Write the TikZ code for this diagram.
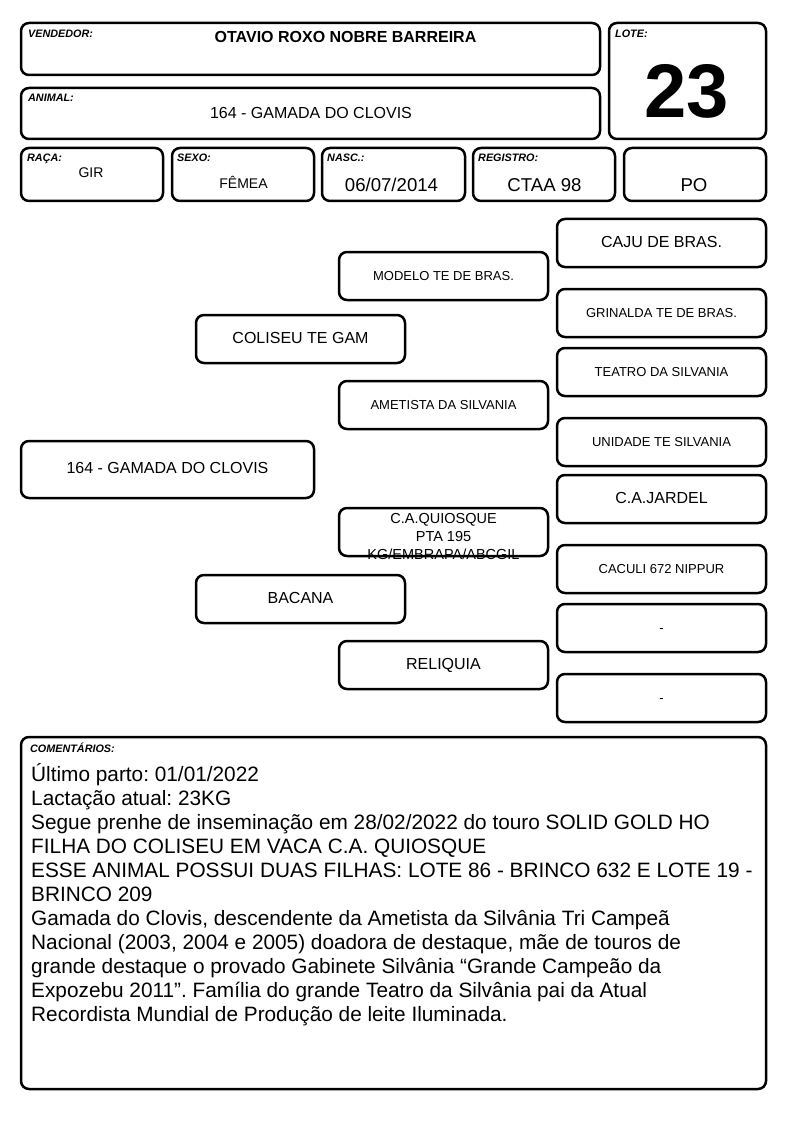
\documentclass[tikz,border=0pt]{standalone}
\usepackage{fontspec}
\setmainfont{Liberation Sans}
\frenchspacing
\begin{document}
\begin{tikzpicture}[x=1pt,y=-1pt,
  box/.style={draw=black, line width=2.5pt, rounded corners=8pt, inner sep=0pt, align=center, fill=white},
  lbl/.style={anchor=base west, inner sep=0pt, font=\fontsize{10.8}{12}\selectfont\bfseries\itshape},
  val/.style={anchor=base, inner sep=0pt},
  fs/.style={font=\fontsize{#1}{#1}\selectfont},
  tb/.style={box, minimum width=209pt, minimum height=48pt, text height=0.88em, text depth=0pt},
  cl/.style={anchor=base west, inner sep=0pt, font=\fontsize{20.8}{24}\selectfont}
]
\useasboundingbox[fill=white] (0,0) rectangle (794,1123);

% header boxes
\node[box, minimum width=579pt, minimum height=52pt] (vend) at (310.5,49) {};
\node[box, minimum width=579pt, minimum height=51pt] (anim) at (310.5,113.5) {};
\node[box, minimum width=157pt, minimum height=116pt] (lote) at (687.5,81) {};
\node[box, minimum width=142pt, minimum height=53pt] (raca) at (92,174.5) {};
\node[box, minimum width=142pt, minimum height=53pt] (sexo) at (243,174.5) {};
\node[box, minimum width=143pt, minimum height=53pt] (nasc) at (393.5,174.5) {};
\node[box, minimum width=142pt, minimum height=53pt] (reg) at (544,174.5) {};
\node[box, minimum width=142pt, minimum height=53pt] (po) at (695,174.5) {};

\node[lbl] (lvend) at (28,38) {VENDEDOR:};
\node[val, font=\fontsize{16}{16}\selectfont\bfseries] (tvend) at (345.5,43) {OTAVIO ROXO NOBRE BARREIRA};
\node[lbl] (lanim) at (28,102) {ANIMAL:};
\node[val, fs=16] (tanim) at (311,119) {164 - GAMADA DO CLOVIS};
\node[lbl] (llote) at (615,38) {LOTE:};
\node[val, font=\fontsize{76}{76}\selectfont\bfseries] (tlote) at (686.5,118) {23};
\node[lbl] (lraca) at (27,162) {RAÇA:};
\node[val, fs=14] (traca) at (91,178) {GIR};
\node[lbl] (lsexo) at (177,162) {SEXO:};
\node[val, fs=14] (tsexo) at (243.5,189) {FÊMEA};
\node[lbl] (lnasc) at (327,162) {NASC.:};
\node[val, fs=18.6] (tnasc) at (391.5,192) {06/07/2014};
\node[lbl] (lreg) at (478,162) {REGISTRO:};
\node[val, fs=18.6] (treg) at (544.5,192) {CTAA 98};
\node[val, fs=18.6] (tpo) at (694,192) {PO};

% pedigree tree
\node[box, minimum width=293pt, minimum height=57pt, fs=16, text height=0.88em, text depth=0pt] (gamada) at (167.5,469.5) {164 - GAMADA DO CLOVIS};
\node[tb, fs=16] (coliseu) at (300.5,339) {COLISEU TE GAM};
\node[tb, fs=16] (bacana) at (300.5,599) {BACANA};
\node[tb, fs=13] (modelo) at (443.5,276) {MODELO TE DE BRAS.};
\node[tb, fs=13] (ametista) at (443.5,405) {AMETISTA DA SILVANIA};
\node[tb] (quiosque) at (443.5,532) {};
\node[inner sep=0pt, align=center, font=\fontsize{14.5}{18}\selectfont] (tquiosque) at (443.5,537) {C.A.QUIOSQUE\\PTA 195\\KG/EMBRAPA/ABCGIL};
\node[tb, fs=16] (reliquia) at (443.5,665) {RELIQUIA};
\node[tb, fs=16] (caju) at (661.5,243) {CAJU DE BRAS.};
\node[tb, fs=13] (grinalda) at (661.5,313) {GRINALDA TE DE BRAS.};
\node[tb, fs=13] (teatro) at (661.5,372) {TEATRO DA SILVANIA};
\node[tb, fs=13] (unidade) at (661.5,442) {UNIDADE TE SILVANIA};
\node[tb, fs=16] (jardel) at (661.5,499) {C.A.JARDEL};
\node[tb, fs=13] (caculi) at (661.5,569) {CACULI 672 NIPPUR};
\node[tb, fs=13] (dasha) at (661.5,628) {-};
\node[tb, fs=13] (dashb) at (661.5,698) {-};

% comments
\node[box, minimum width=745pt, minimum height=352pt] (coment) at (393.5,913) {};
\node[lbl] (lcom) at (30,752) {COMENTÁRIOS:};
\node[cl] (c1) at (31,781) {Último parto: 01/01/2022};
\node[cl] (c2) at (31,805) {Lactação atual: 23KG};
\node[cl] (c3) at (31,829) {Segue prenhe de inseminação em 28/02/2022 do touro SOLID GOLD HO};
\node[cl] (c4) at (31,853) {FILHA DO COLISEU EM VACA C.A. QUIOSQUE};
\node[cl] (c5) at (31,877) {ESSE ANIMAL POSSUI DUAS FILHAS: LOTE 86 - BRINCO 632 E LOTE 19 -};
\node[cl] (c6) at (31,901) {BRINCO 209};
\node[cl] (c7) at (31,925) {Gamada do Clovis, descendente da Ametista da Silvânia Tri Campeã};
\node[cl] (c8) at (31,949) {Nacional (2003, 2004 e 2005) doadora de destaque, mãe de touros de};
\node[cl] (c9) at (31,973) {grande destaque o provado Gabinete Silvânia “Grande Campeão da};
\node[cl] (c10) at (31,997) {Expozebu 2011”. Família do grande Teatro da Silvânia pai da Atual};
\node[cl] (c11) at (31,1021) {Recordista Mundial de Produção de leite Iluminada.};
\end{tikzpicture}
\end{document}
